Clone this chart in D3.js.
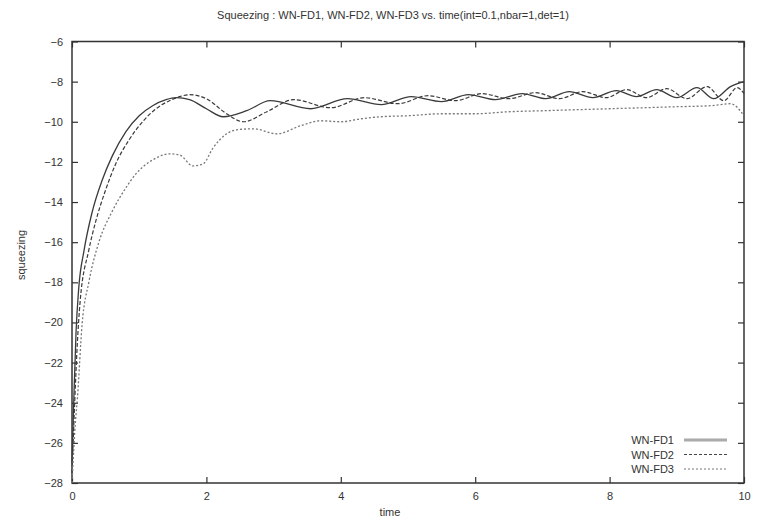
<!DOCTYPE html>
<html lang="en">
<head>
<meta charset="UTF-8">
<title>Squeezing</title>
<style>
  body { margin: 0; background: #fff; }
  svg { font-family: "Liberation Sans", Arial, sans-serif; }
  .frame { fill: none; stroke: #333; stroke-width: 1.5; }
  .axis line { stroke: #333; stroke-width: 1.2; }
  .axis text { fill: #333; font-size: 11px; }
  .label { fill: #333; font-size: 11px; }
  .curve { fill: none; stroke-linejoin: round; }
</style>
</head>
<body>
<svg></svg>
<script src="https://d3js.org/d3.v7.min.js"></script>
<script>
// tick values
const timeTicks = [0, 2, 4, 6, 8, 10];
const squeezeTicks = [-6, -8, -10, -12, -14, -16, -18, -20, -22, -24, -26, -28];

// WN-FD1 (solid)
const fd1Time = [0, 0.03, 0.06, 0.1, 0.18, 0.3, 0.45, 0.6, 0.8, 1.0, 1.2, 1.4, 1.55, 1.75, 2.0, 2.25,
  2.6, 2.95, 3.55, 4.1, 4.6, 5.05, 5.5, 5.9, 6.3, 6.7, 7.05, 7.4, 7.75, 8.1, 8.4, 8.7, 9.0, 9.3, 9.55, 9.8, 10];
const fd1Val = [-27, -23.5, -20.5, -18.3, -16.4, -14.5, -12.9, -11.7, -10.5, -9.7, -9.2, -8.9, -8.8, -8.9, -9.35, -9.75,
  -9.45, -8.95, -9.35, -8.85, -9.15, -8.75, -9.0, -8.65, -8.9, -8.6, -8.85, -8.5, -8.8, -8.45, -8.75, -8.4, -8.8, -8.3, -8.85, -8.25, -8.0];

// WN-FD2 (dashed)
const fd2Time = [0, 0.04, 0.08, 0.12, 0.25, 0.35, 0.5, 0.65, 0.85, 1.05, 1.25, 1.45, 1.6, 1.75, 2.0, 2.3, 2.55,
  2.9, 3.3, 3.85, 4.35, 4.85, 5.3, 5.7, 6.1, 6.5, 6.9, 7.25, 7.6, 7.95, 8.25, 8.55, 8.85, 9.15, 9.45, 9.7, 9.9, 10];
const fd2Val = [-27.5, -24, -21, -19, -16.4, -15.0, -13.4, -12.1, -10.9, -10.0, -9.35, -8.95, -8.75, -8.65, -8.85, -9.6, -10.0,
  -9.5, -8.9, -9.3, -8.8, -9.1, -8.7, -8.95, -8.6, -8.85, -8.55, -8.85, -8.5, -8.8, -8.4, -8.8, -8.35, -8.85, -8.25, -8.95, -8.3, -8.6];

// WN-FD3 (dotted)
const fd3Time = [0, 0.05, 0.08, 0.15, 0.25, 0.4, 0.6, 0.8, 0.95, 1.2, 1.45, 1.6, 1.8, 1.95, 2.1, 2.3, 2.45, 2.7,
  3.05, 3.4, 3.7, 4.0, 4.3, 4.6, 5.0, 5.5, 6.0, 6.5, 7.0, 7.5, 8.0, 8.5, 9.0, 9.5, 9.8, 10];
const fd3Val = [-28, -25, -23.8, -20.1, -18, -16, -14.45, -13.3, -12.6, -11.9, -11.6, -11.65, -12.2, -12.1, -11.3, -10.6, -10.4, -10.35,
  -10.6, -10.2, -9.95, -10.0, -9.85, -9.75, -9.7, -9.6, -9.6, -9.5, -9.45, -9.4, -9.35, -9.3, -9.25, -9.2, -9.1, -9.7];

const seriesNames = ["WN-FD1", "WN-FD2", "WN-FD3"];

const width = 760, height = 520;
const plotLeft = 72, plotRight = 744, plotTop = 41.5, plotBottom = 483;

const svg = d3.select("svg").attr("width", width).attr("height", height);

const x = d3.scaleLinear().domain([0, 10]).range([plotLeft, plotRight]);
const y = d3.scaleLinear().domain([-28, -6]).range([plotBottom, plotTop]);

// axes, ticks pointing inward on all four sides
svg.append("g").attr("class", "axis")
  .attr("transform", `translate(0,${plotBottom})`)
  .call(d3.axisBottom(x).tickValues(timeTicks).tickSize(-6).tickPadding(9).tickFormat(d3.format("d")));
svg.append("g").attr("class", "axis")
  .attr("transform", `translate(0,${plotTop})`)
  .call(d3.axisTop(x).tickValues(timeTicks).tickSize(-6).tickFormat(""));
svg.append("g").attr("class", "axis")
  .attr("transform", `translate(${plotLeft},0)`)
  .call(d3.axisLeft(y).tickValues(squeezeTicks).tickSize(-6).tickPadding(9).tickFormat(d3.format("d")));
svg.append("g").attr("class", "axis")
  .attr("transform", `translate(${plotRight},0)`)
  .call(d3.axisRight(y).tickValues(squeezeTicks).tickSize(-6).tickFormat(""));
svg.selectAll(".axis .domain").remove();
svg.selectAll(".axis").attr("font-family", null).attr("font-size", null);

svg.append("rect").attr("class", "frame")
  .attr("x", plotLeft).attr("y", plotTop)
  .attr("width", plotRight - plotLeft).attr("height", plotBottom - plotTop);

// curves
const line = d3.line()
  .x(d => x(d[0]))
  .y(d => y(d[1]))
  .curve(d3.curveMonotoneX);

const series = [
  { t: fd1Time, v: fd1Val, stroke: "#3a3a3a", w: 1.3, dash: null },
  { t: fd2Time, v: fd2Val, stroke: "#3a3a3a", w: 1.2, dash: "4,2" },
  { t: fd3Time, v: fd3Val, stroke: "#777", w: 1.3, dash: "2,2" }
];

series.forEach(s => {
  svg.append("path")
    .datum(s.t.map((t, i) => [t, s.v[i]]))
    .attr("class", "curve")
    .attr("d", line)
    .attr("stroke", s.stroke)
    .attr("stroke-width", s.w)
    .attr("stroke-dasharray", s.dash);
});

// legend
const legendStyle = [
  { stroke: "#aaa", w: 3, dash: null },
  { stroke: "#444", w: 1.2, dash: "3,2" },
  { stroke: "#777", w: 1.2, dash: "2,2" }
];
seriesNames.forEach((name, i) => {
  const ly = 440 + i * 14.5;
  svg.append("text").attr("class", "label")
    .attr("x", 674).attr("y", ly + 4)
    .attr("text-anchor", "end")
    .text(name);
  svg.append("line")
    .attr("x1", 684).attr("x2", 727).attr("y1", ly).attr("y2", ly)
    .attr("stroke", legendStyle[i].stroke)
    .attr("stroke-width", legendStyle[i].w)
    .attr("stroke-dasharray", legendStyle[i].dash);
});

// titles
svg.append("text").attr("class", "label")
  .attr("x", 393).attr("y", 19)
  .attr("text-anchor", "middle")
  .text("Squeezing : WN-FD1, WN-FD2, WN-FD3 vs. time(int=0.1,nbar=1,det=1)");

svg.append("text").attr("class", "label")
  .attr("transform", "translate(25,255) rotate(-90)")
  .attr("text-anchor", "middle")
  .text("squeezing");

svg.append("text").attr("class", "label")
  .attr("x", 390).attr("y", 516)
  .attr("text-anchor", "middle")
  .text("time");
</script>
</body>
</html>
